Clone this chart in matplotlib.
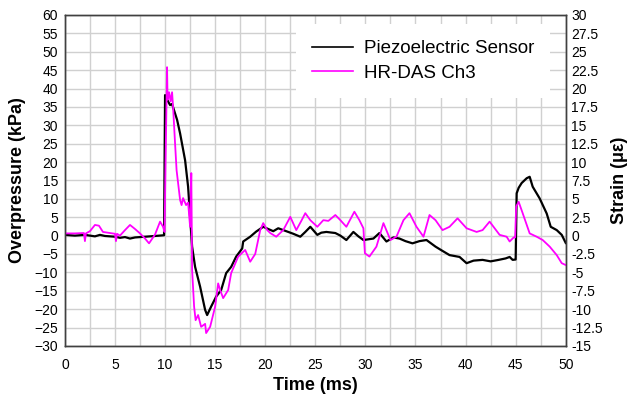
import matplotlib.pyplot as plt

plt.rcParams['font.family'] = ['Liberation Sans', 'DejaVu Sans']

# piezoelectric sensor, overpressure (kPa)
piezo_t = [0, 1, 2, 3, 3.5, 4, 5, 5.5, 6, 6.5, 7, 8, 9, 9.9,
           10.0, 10.1, 10.3, 10.5, 10.7, 11.0, 11.2, 11.5, 12.0, 12.3, 12.5,
           12.7, 13.0, 13.5, 14.0, 14.2, 14.6, 15.1, 15.6, 16.1, 16.6, 17.1,
           17.7, 17.8, 18.5, 19.1, 19.8, 20.3, 20.8, 21.3, 21.8,
           22.3, 22.8, 23.5, 24.0, 24.5, 25.2, 25.6, 26.1, 27.0, 27.5, 28.1,
           28.8, 29.3, 29.8, 30.8, 31.4, 32.1, 32.8, 33.4, 34.0, 34.7, 35.4,
           36.1, 37.0, 37.6, 38.4, 39.4, 40.1, 40.8, 41.7, 42.5, 43.3, 44.0,
           44.4, 44.7, 45.0, 45.1, 45.3, 45.6, 46.1, 46.4, 46.7, 47.4, 48.1,
           48.5, 49.1, 49.6, 50.0]
piezo_kpa = [0.2, 0.0, 0.2, -0.2, 0.2, -0.1, -0.3, -0.6, -0.4, -0.8, -0.5, -0.3, -0.1, 0.1,
             38.2, 37.5, 36.5, 35.5, 35.8, 33.2, 31.5, 27.8, 20.5, 13.3, 5.1,
             -3.0, -8.5, -13.9, -20.2, -21.6, -19.3, -16.6, -14.8, -10.2, -8.5, -5.7,
             -3.5, -1.6, -0.3, 1.1, 2.4, 1.8, 1.2, 2.0, 1.5,
             1.0, 0.5, -0.3, 1.0, 2.4, 0.2, 0.8, 1.0, 0.7, 0.0, -1.2,
             1.0, -0.2, -1.2, -0.8, 0.7, -1.6, -0.5, -0.8, -1.5, -2.1, -1.5,
             -1.2, -3.0, -4.0, -5.3, -5.8, -7.5, -6.8, -6.6, -7.0, -6.6, -6.2,
             -5.8, -6.6, -6.5, 11.5, 13.0, 14.3, 15.6, 16.0, 13.3, 10.1, 6.0,
             2.4, 1.5, 0.2, -2.0]

# HR-DAS channel 3, strain (microstrain)
das_t = [0, 1.0, 1.9, 2.0, 2.1, 2.5, 3.0, 3.4, 3.8, 4.5, 5.0, 5.1, 5.2, 5.5,
         6.0, 6.5, 7.0, 7.5, 8.0, 8.4, 9.0, 9.5, 9.8, 9.95,
         10.05, 10.2, 10.25, 10.4, 10.55, 10.7, 10.8, 11.0, 11.15, 11.5, 11.65,
         11.8, 12.1, 12.3, 12.5, 12.62, 12.7, 12.9, 13.05, 13.3, 13.6,
         14.0, 14.1, 14.5, 15.0, 15.3, 15.5, 15.8, 16.3, 16.6, 17.3,
         18.0, 18.5, 19.0, 19.5, 19.8, 20.2, 20.5, 21.1,
         21.8, 22.5, 23.1, 23.6, 24.0, 24.5, 25.2, 25.8, 26.3, 27.0, 27.5,
         28.1, 28.9, 29.4, 29.8, 29.95, 30.4, 31.1, 31.8, 32.5, 33.1, 33.8,
         34.4, 35.1, 35.8, 36.4, 37.0, 37.7, 38.4, 39.2, 40.1, 41.1, 41.7,
         42.4, 43.4, 44.1, 44.4, 44.8, 44.95, 45.05, 45.3, 45.7, 46.4, 47.1,
         47.7, 48.4, 49.1, 49.6, 50.0]
das_strain = [0.3, 0.3, 0.35, -0.75, 0.3, 0.6, 1.45, 1.35, 0.5, 0.35, 0.25, -0.75, 0.25, 0.0,
              0.75, 1.45, 0.9, 0.3, -0.4, -1.05, 0.15, 1.9, 1.2, 0.5,
              10.0, 22.9, 18.5, 19.5, 18.25, 19.5, 17.5, 12.5, 8.9, 4.85, 4.15,
              5.1, 4.15, 4.5, 1.2, 8.5, -4.65, -9.65, -11.5, -10.8, -12.4,
              -12.0, -13.25, -12.4, -9.65, -6.5, -7.4, -8.5, -7.4, -5.1, -2.85,
              -1.95, -3.55, -2.5, 0.75, 1.7, 0.75, 0.35, -0.15,
              0.75, 2.55, 0.75, 2.0, 3.05, 2.1, 1.2, 2.1, 2.0, 2.8, 2.1,
              1.2, 3.25, 2.1, 1.0, -2.4, -2.85, -1.5, 1.7, -0.6, -0.15, 2.1,
              3.05, 1.2, -0.15, 2.8, 2.1, 0.75, 1.2, 2.35, 1.0, 0.5, 0.75,
              1.9, 0.1, -0.15, -0.8, -0.25, -0.25, 3.95, 4.6, 3.05, 0.3, -0.15,
              -0.6, -1.5, -2.65, -3.75, -4.0]

fig = plt.figure(figsize=(6.3, 3.94), dpi=100)
ax = fig.add_axes([0.103, 0.122, 0.795, 0.840])
ax2 = ax.twinx()

l1, = ax.plot(piezo_t, piezo_kpa, color='black', lw=1.6, label='Piezoelectric Sensor')
l2, = ax2.plot(das_t, das_strain, color='#ff00ff', lw=1.3, label='HR-DAS Ch3')

ax.set_xlim(0, 50)
ax.set_ylim(-30, 60)
ax2.set_ylim(-15, 30)
ax.set_xticks(range(0, 51, 5))
ax.set_xticks([x + 2.5 for x in range(0, 50, 5)], minor=True)
ax.set_yticks(range(-30, 61, 5))
strain_ticks = [v * 2.5 for v in range(-6, 13)]
ax2.set_yticks(strain_ticks)
ax2.set_yticklabels([f'{v:g}' for v in strain_ticks])

ax.grid(True, which='both', color='#d0d0d0', lw=1.0)
ax.set_axisbelow(True)
ax.tick_params(axis='y', which='both', length=0, labelsize=10, pad=5)
ax.tick_params(axis='x', which='both', length=0, labelsize=10, pad=9)
ax2.tick_params(length=0, labelsize=10, pad=4)

for a in (ax, ax2):
    for s in a.spines.values():
        s.set_color('#404040')
        s.set_linewidth(1.0)

ax.set_xlabel('Time (ms)', fontsize=13, fontweight='bold', labelpad=3)
ax.set_ylabel('Overpressure (kPa)', fontsize=13, fontweight='bold', labelpad=6)
ax2.set_ylabel('Strain (με)', fontsize=13, fontweight='bold', labelpad=6)

leg = ax2.legend(handles=[l1, l2], loc='upper left',
                 bbox_to_anchor=(296 / 630, 1 - 24 / 394), bbox_transform=fig.transFigure,
                 fontsize=13.5, frameon=True, fancybox=False, edgecolor='none',
                 facecolor='white', framealpha=1.0, handlelength=2.2,
                 borderpad=0.85, labelspacing=0.4, handletextpad=0.55,
                 borderaxespad=0)
leg.get_lines()[0].set_linewidth(1.2)
leg.get_lines()[1].set_linewidth(1.2)

fig.savefig('out.png', dpi=100)
